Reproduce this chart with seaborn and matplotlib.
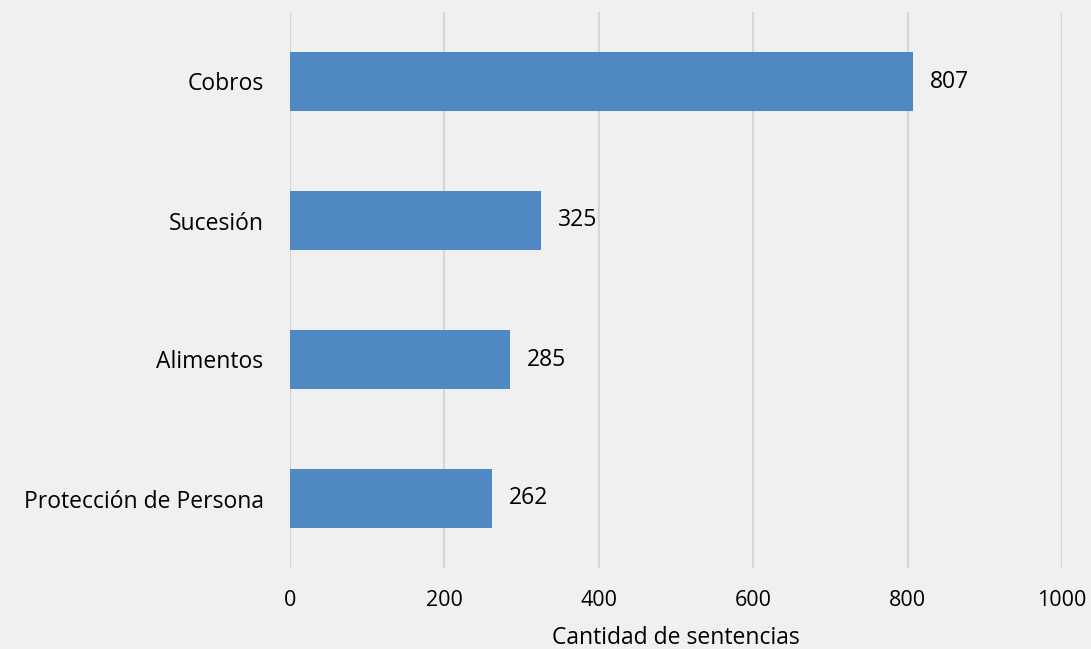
import matplotlib
matplotlib.use("Agg")
import matplotlib.pyplot as plt
import seaborn as sns
import pandas as pd

categories = ["Cobros", "Sucesión", "Alimentos", "Protección de Persona"]
values = [807, 325, 285, 262]
xticks = [0, 200, 400, 600, 800, 1000]

df = pd.DataFrame({"categoria": categories, "sentencias": values})

sns.set_theme(style="white")
plt.rcParams["font.family"] = ["Open Sans", "DejaVu Sans"]

bg = "#f0f0f0"
fig = plt.figure(figsize=(10.91, 6.49), dpi=100, facecolor=bg)
ax = fig.add_axes([290 / 1091, 1 - 568 / 649, (1062 - 290) / 1091, (568 - 12) / 649])
ax.set_facecolor(bg)

sns.barplot(data=df, y="categoria", x="sentencias", orient="h", color="#4f88c3",
            saturation=1, width=0.43, ax=ax, order=categories, linewidth=0)

ax.set_xlim(0, 1000)
ax.set_ylim(3.5, -0.5)
ax.set_xticks(xticks)
ax.set_xticklabels([str(t) for t in xticks])
ax.xaxis.grid(True, color="#d6d6d6", linewidth=1.5)
ax.set_axisbelow(True)
for s in ax.spines.values():
    s.set_visible(False)
ax.tick_params(axis="x", length=0, pad=16, labelsize=15.5, labelcolor="black")
ax.tick_params(axis="y", length=0, pad=19, labelsize=16.5, labelcolor="black")
ax.set_ylabel("")
ax.set_xlabel("Cantidad de sentencias", fontsize=16.5, color="black", labelpad=11)

for i, v in enumerate(values):
    ax.annotate(str(v), xy=(v, i), xytext=(12, 0), textcoords="offset points",
                va="center", ha="left", fontsize=16.5, color="black")

fig.savefig("out.png", dpi=100, facecolor=bg)
